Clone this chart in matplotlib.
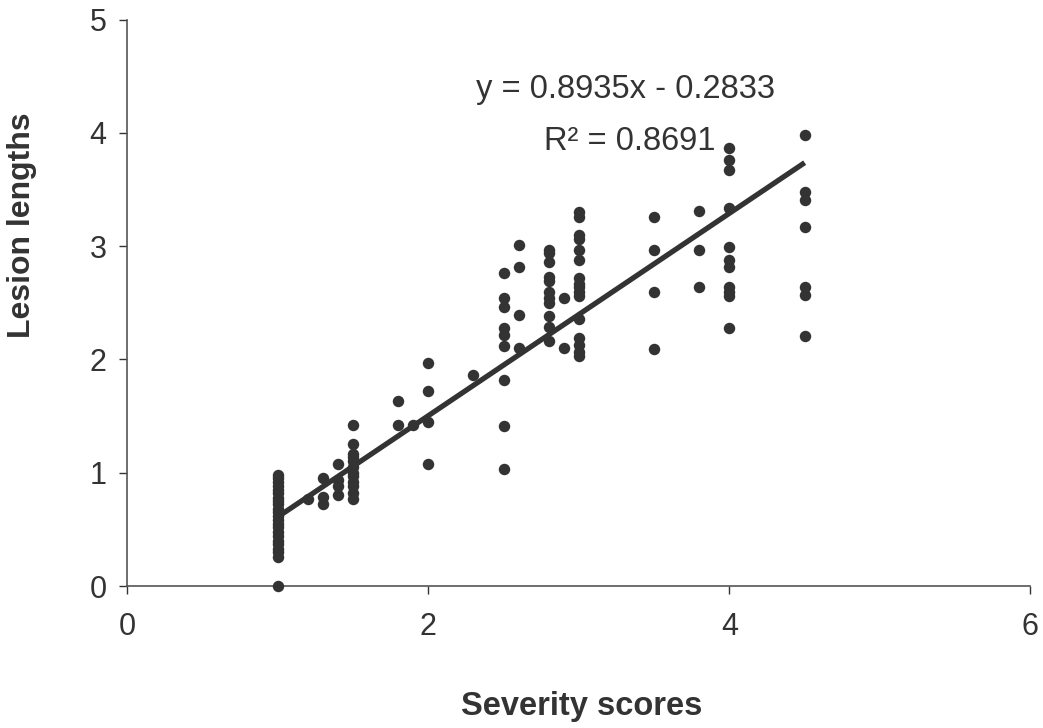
import matplotlib
matplotlib.use("Agg")
import matplotlib.pyplot as plt

# ---- data ----
severity_levels = [1.0, 1.2, 1.3, 1.4, 1.5, 1.8, 1.9, 2.0, 2.3, 2.5, 2.6, 2.8, 2.9, 3.0, 3.5, 3.8, 4.0, 4.5]
lesions_by_level = [
    [0.0, 0.26, 0.30, 0.33, 0.37, 0.40, 0.44, 0.48, 0.52, 0.55, 0.58, 0.62, 0.65,
     0.68, 0.72, 0.75, 0.78, 0.82, 0.85, 0.88, 0.92, 0.95, 0.98],
    [0.77],
    [0.95, 0.79, 0.72],
    [1.08, 0.94, 0.88, 0.80],
    [1.42, 1.25, 1.17, 1.14, 1.10, 1.05, 1.00, 0.97, 0.92, 0.88, 0.82, 0.77],
    [1.63, 1.42],
    [1.42],
    [1.97, 1.72, 1.45, 1.08],
    [1.86],
    [2.76, 2.54, 2.46, 2.28, 2.22, 2.12, 1.82, 1.41, 1.03],
    [3.01, 2.82, 2.39, 2.10],
    [2.97, 2.94, 2.86, 2.73, 2.69, 2.60, 2.54, 2.50, 2.38, 2.29, 2.16],
    [2.54, 2.10],
    [3.30, 3.26, 3.10, 3.06, 2.97, 2.88, 2.72, 2.67, 2.64, 2.60, 2.56, 2.36, 2.19, 2.13, 2.07, 2.03],
    [3.26, 2.97, 2.60, 2.09],
    [3.31, 2.97, 2.64],
    [3.87, 3.76, 3.67, 3.34, 2.99, 2.88, 2.82, 2.64, 2.60, 2.56, 2.28],
    [3.98, 3.48, 3.41, 3.17, 2.64, 2.57, 2.21],
]
slope = 0.8935
intercept = -0.2833
r_squared = 0.8691
fit_x_range = [1.0, 4.5]
x_ticks = [0, 2, 4, 6]
y_ticks = [0, 1, 2, 3, 4, 5]
x_label = "Severity scores"
y_label = "Lesion lengths"

severity = [s for s, vals in zip(severity_levels, lesions_by_level) for _ in vals]
lesion = [v for vals in lesions_by_level for v in vals]

plt.rcParams['font.family'] = ['Liberation Sans', 'DejaVu Sans']
ink = '#333333'

fig = plt.figure(figsize=(10.43, 7.28), dpi=100)
ax = fig.add_axes([0.122, 0.195, 0.866, 0.778])

ax.scatter(severity, lesion, s=68, color=ink, zorder=3, linewidths=0, clip_on=False)
fx = fit_x_range
fy = [slope * v + intercept for v in fx]
ax.plot(fx, fy, color=ink, lw=3.8, solid_capstyle='butt', zorder=2)

ax.set_xlim(0, 6)
ax.set_ylim(0, 5)
ax.set_xticks(x_ticks)
ax.set_yticks(y_ticks)
ax.tick_params(axis='both', colors=ink, length=6, width=1, direction='out')
ax.tick_params(axis='x', labelsize=22, pad=13)
ax.tick_params(axis='y', labelsize=22, pad=9)
for side in ['top', 'right']:
    ax.spines[side].set_visible(False)
for side in ['left', 'bottom']:
    ax.spines[side].set_color('#555555')
    ax.spines[side].set_linewidth(1.2)

ax.text(3.31, 4.31, f"y = {slope}x - {abs(intercept)}", ha='center', va='baseline',
        fontsize=23.5, color=ink)
ax.text(3.34, 3.85, f"R² = {r_squared}", ha='center', va='baseline',
        fontsize=23.5, color=ink)

fig.text(582 / 1043, 1 - 715 / 728, x_label, ha='center', va='baseline',
         fontsize=23.5, fontweight='bold', color=ink)
fig.text(22 / 1043, 1 - 225 / 728, y_label, ha='center', va='center', rotation=90,
         fontsize=23, fontweight='bold', color=ink)

fig.savefig("out.png", dpi=100, facecolor='white')
